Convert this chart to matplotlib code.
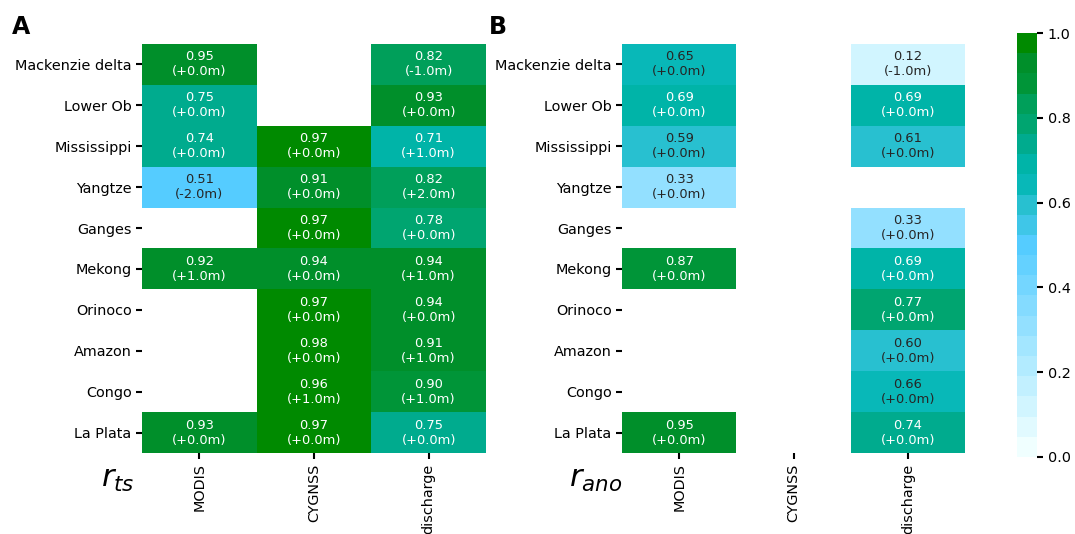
import numpy as np
import matplotlib
matplotlib.use('Agg')
import matplotlib.pyplot as plt
from matplotlib.colors import LinearSegmentedColormap, to_rgb

rivers = ['Mackenzie delta', 'Lower Ob', 'Mississippi', 'Yangtze', 'Ganges',
          'Mekong', 'Orinoco', 'Amazon', 'Congo', 'La Plata']
sources = ['MODIS', 'CYGNSS', 'discharge']
nan = np.nan

# correlation of time series (A)
ts_modis = [0.95, 0.75, 0.74, 0.51, nan, 0.92, nan, nan, nan, 0.93]
ts_cygnss = [nan, nan, 0.97, 0.91, 0.97, 0.94, 0.97, 0.98, 0.96, 0.97]
ts_discharge = [0.82, 0.93, 0.71, 0.82, 0.78, 0.94, 0.94, 0.91, 0.90, 0.75]
ts_lag_modis = [0, 0, 0, -2, nan, 1, nan, nan, nan, 0]
ts_lag_cygnss = [nan, nan, 0, 0, 0, 0, 0, 0, 1, 0]
ts_lag_discharge = [-1, 0, 1, 2, 0, 1, 0, 1, 1, 0]

# correlation of anomalies (B)
ano_modis = [0.65, 0.69, 0.59, 0.33, nan, 0.87, nan, nan, nan, 0.95]
ano_cygnss = [nan] * 10
ano_discharge = [0.12, 0.69, 0.61, nan, 0.33, 0.69, 0.77, 0.60, 0.66, 0.74]
ano_lag_modis = [0, 0, 0, 0, nan, 0, nan, nan, nan, 0]
ano_lag_cygnss = [nan] * 10
ano_lag_discharge = [-1, 0, 0, nan, 0, 0, 0, 0, 0, 0]

cmap = LinearSegmentedColormap.from_list('wetland', [
    (0.0, '#f0ffff'), (0.5, '#55ccff'), (0.6, '#28c0d0'), (0.65, '#08b8b8'),
    (0.7, '#00b4a8'), (0.75, '#00ab8e'), (0.8, '#00a570'), (0.85, '#009f5a'),
    (0.9, '#009538'), (0.95, '#008f2a'), (1.0, '#008a00')], N=21)


def luminance(c):
    rgb = np.array(to_rgb(c))
    lin = np.where(rgb <= 0.03928, rgb / 12.92, ((rgb + 0.055) / 1.055) ** 2.4)
    return 0.2126 * lin[0] + 0.7152 * lin[1] + 0.0722 * lin[2]


def plot_panel(ax, vals, lags):
    vals = np.array(vals, dtype=float).T
    lags = np.array(lags, dtype=float).T
    mesh = ax.pcolormesh(np.ma.masked_invalid(vals), cmap=cmap, vmin=0, vmax=1)
    for i in range(vals.shape[0]):
        for j in range(vals.shape[1]):
            v = vals[i, j]
            if np.isnan(v):
                continue
            col = '#262626' if luminance(cmap(v)) > 0.366 else 'w'
            ax.text(j + 0.5, i + 0.5, '{:.2f}\n({:+.1f}m)'.format(v, lags[i, j]),
                    ha='center', va='center', fontsize=9.4, color=col)
    ax.set_xlim(0, 3)
    ax.set_ylim(10, 0)
    ax.set_xticks(np.arange(3) + 0.5)
    ax.set_xticklabels(sources, rotation=90, fontsize=10.4)
    ax.set_yticks(np.arange(10) + 0.5)
    ax.set_yticklabels(rivers, fontsize=10.4)
    for s in ax.spines.values():
        s.set_visible(False)
    ax.tick_params(length=4, width=1.5)
    return mesh


fig = plt.figure(figsize=(10.75, 5.34), dpi=100)
ax_a = fig.add_axes([0.1321, 0.1517, 0.3200, 0.7659])
ax_b = fig.add_axes([0.5786, 0.1517, 0.3191, 0.7659])
cax = fig.add_axes([0.9465, 0.1442, 0.0186, 0.7940])

mesh = plot_panel(ax_a, [ts_modis, ts_cygnss, ts_discharge],
                  [ts_lag_modis, ts_lag_cygnss, ts_lag_discharge])
plot_panel(ax_b, [ano_modis, ano_cygnss, ano_discharge],
           [ano_lag_modis, ano_lag_cygnss, ano_lag_discharge])

cb = fig.colorbar(mesh, cax=cax)
cb.outline.set_visible(False)
cb.set_ticks([0.0, 0.2, 0.4, 0.6, 0.8, 1.0])
cax.tick_params(labelsize=10.4, length=4, width=1.5)

fig.text(12 / 1075, 1 - 34 / 534, 'A', fontsize=17, fontweight='bold', va='baseline')
fig.text(489 / 1075, 1 - 34 / 534, 'B', fontsize=17, fontweight='bold', va='baseline')
fig.text(118 / 1075, 1 - 487 / 534, r'$r_{ts}$', fontsize=22, ha='center', va='baseline')
fig.text(596 / 1075, 1 - 487 / 534, r'$r_{ano}$', fontsize=22, ha='center', va='baseline')

fig.savefig('out.png', dpi=100)
